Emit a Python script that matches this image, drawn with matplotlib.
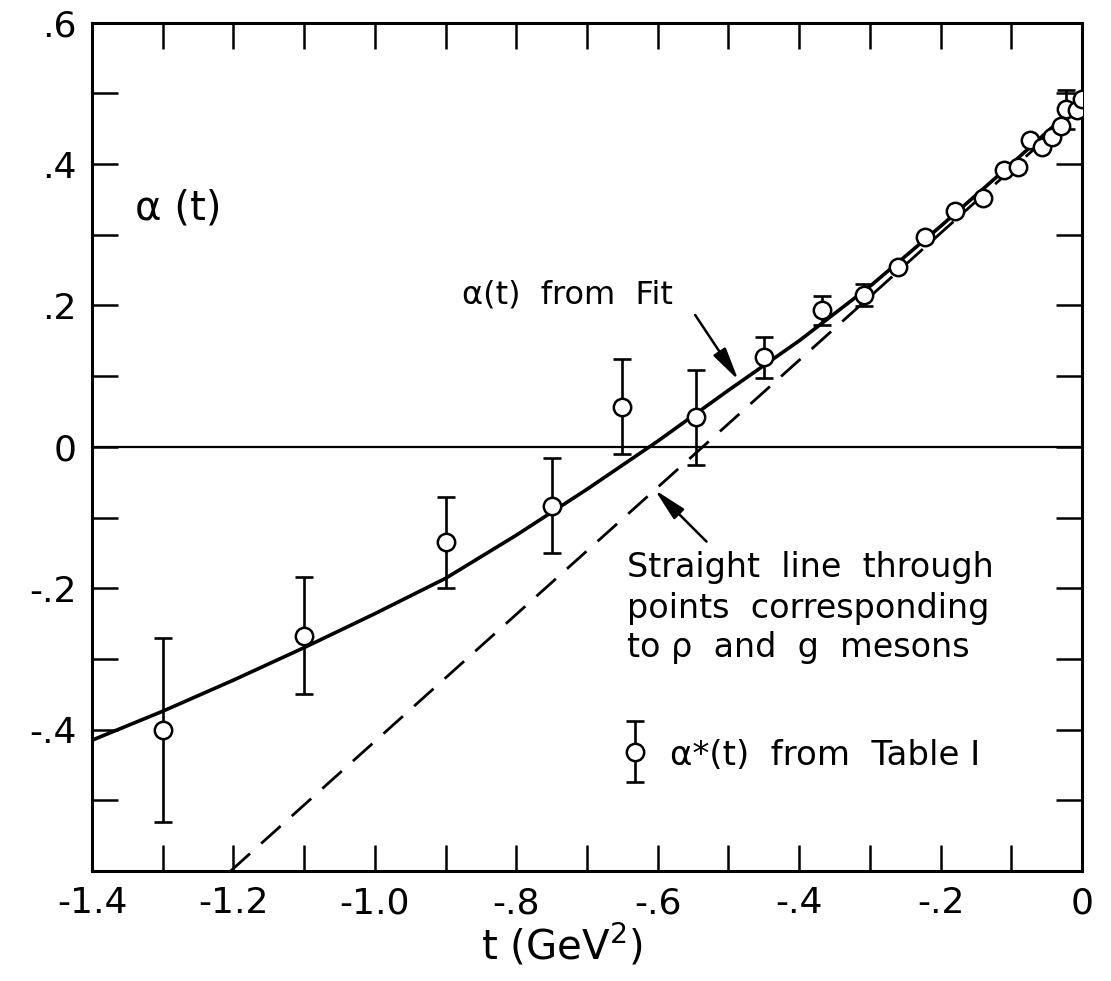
import numpy as np
import matplotlib
matplotlib.use("Agg")
import matplotlib.pyplot as plt

plt.rcParams['font.family'] = ['DejaVu Sans']

# ---- data ----
pt_t = [-1.30, -1.10, -0.90, -0.75, -0.65, -0.546, -0.449, -0.368, -0.308,
        -0.26, -0.222, -0.18, -0.14, -0.11, -0.091, -0.0735, -0.056, -0.042,
        -0.029, -0.0225, -0.0065, 0.0]
pt_a = [-0.40, -0.267, -0.135, -0.083, 0.057, 0.042, 0.127, 0.193, 0.215,
        0.255, 0.297, 0.334, 0.352, 0.391, 0.396, 0.434, 0.424, 0.439,
        0.454, 0.4775, 0.4765, 0.492]
pt_err = [0.13, 0.083, 0.064, 0.067, 0.067, 0.067, 0.029, 0.02, 0.016,
          0, 0, 0, 0, 0, 0, 0, 0, 0,
          0, 0.028, 0, 0]

fit_t = [-1.4, -1.3, -1.2, -1.1, -1.0, -0.9, -0.8, -0.7, -0.6, -0.5, -0.4,
         -0.3, -0.2, -0.1, 0.0]
fit_a = [-0.415, -0.374, -0.330, -0.284, -0.236, -0.186, -0.125, -0.060,
         0.008, 0.080, 0.150, 0.227, 0.312, 0.400, 0.490]

line_t = [-1.204, 0.0]
line_a = [-0.60, 0.482]

legend_t, legend_a, legend_err = [-0.632], [-0.431], [0.043]

xtick_vals = [-1.4, -1.3, -1.2, -1.1, -1.0, -0.9, -0.8, -0.7, -0.6, -0.5, -0.4, -0.3, -0.2, -0.1, 0.0]
xtick_labels = ['-1.4', '', '-1.2', '', '-1.0', '', '-.8', '', '-.6', '', '-.4', '', '-.2', '', '0']
ytick_vals = [-0.6, -0.5, -0.4, -0.3, -0.2, -0.1, 0.0, 0.1, 0.2, 0.3, 0.4, 0.5, 0.6]
ytick_labels = ['', '', '-.4', '', '-.2', '', '0', '', '.2', '', '.4', '', '.6']

# ---- figure ----
W, H = 1111, 981
fig = plt.figure(figsize=(W / 100, H / 100), dpi=100)
left, right, top, bottom = 92, 1082, 22.7, 871
ax = fig.add_axes([left / W, 1 - bottom / H, (right - left) / W, (bottom - top) / H])
ax.set_xlim(-1.4, 0.0)
ax.set_ylim(-0.6, 0.6)

for s in ax.spines.values():
    s.set_linewidth(2.2)

ax.set_xticks(xtick_vals)
ax.set_xticklabels(xtick_labels)
ax.set_yticks(ytick_vals)
ax.set_yticklabels(ytick_labels)
ax.tick_params(direction='in', length=19, width=1.8, top=True, right=True,
               labelsize=26, pad=11)

# zero line
ax.axhline(0, color='black', lw=1.6, zorder=1)

# fit curve and straight line
ax.plot(fit_t, fit_a, color='black', lw=2.6, zorder=2, solid_joinstyle='round')
ax.plot(line_t, line_a, color='black', lw=2.0, dashes=(9.4, 5.4), zorder=2)

# error bars
et = [t for t, e in zip(pt_t, pt_err) if e > 0]
ea = [a for a, e in zip(pt_a, pt_err) if e > 0]
ee = [e for e in pt_err if e > 0]
ax.errorbar(et, ea, yerr=ee, fmt='none', ecolor='black', elinewidth=1.9,
            capsize=6.5, capthick=1.9, zorder=3)
ax.plot(pt_t, pt_a, 'o', ms=12.5, mfc='white', mec='black', mew=1.8, zorder=4)

# legend symbol
ax.errorbar(legend_t, legend_a, yerr=legend_err, fmt='none', ecolor='black',
            elinewidth=1.9, capsize=6.5, capthick=1.9, zorder=3)
ax.plot(legend_t, legend_a, 'o', ms=12.5, mfc='white', mec='black', mew=1.8, zorder=4)
ax.text(-0.582, -0.45, 'α*(t)  from  Table I', fontsize=24.5, ha='left', va='baseline')

# texts
ax.text(-1.339, 0.321, 'α (t)', fontsize=29, ha='left', va='baseline')
ax.text(-0.877, 0.203, 'α(t)  from  Fit', fontsize=23, ha='left', va='baseline')
ax.text(-0.644, -0.1846, 'Straight  line  through', fontsize=24, ha='left', va='baseline')
ax.text(-0.644, -0.2421, 'points  corresponding', fontsize=24, ha='left', va='baseline')
ax.text(-0.644, -0.2968, 'to ρ  and  g  mesons', fontsize=24, ha='left', va='baseline')

arrow = dict(arrowstyle='-|>,head_length=1.0,head_width=0.22', lw=1.8,
             color='black', shrinkA=0, shrinkB=0, mutation_scale=20)
ax.annotate('', xy=(-0.486, 0.0945), xytext=(-0.547, 0.1865), arrowprops=arrow)
ax.annotate('', xy=(-0.604, -0.061), xytext=(-0.531, -0.134), arrowprops=arrow)

fig.text(562 / W, 1 - 945 / H, 't (GeV$^2$)', fontsize=29, ha='center', va='center')

fig.savefig('out.png', dpi=100)
